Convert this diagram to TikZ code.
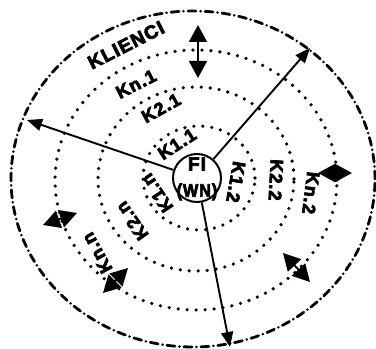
\documentclass[tikz,border=0pt]{standalone}
\usepackage{fontspec}
\setmainfont{Liberation Sans}
\newfontfamily\heavyfont[FakeBold=4,LetterSpace=6]{Liberation Sans Bold}
\usetikzlibrary{arrows.meta}

\begin{document}
\begin{tikzpicture}[x=1pt,y=1pt,
  lbl/.style={font=\heavyfont\fontsize{18}{18}\selectfont,inner sep=0pt},
  big/.style={font=\heavyfont\fontsize{19}{19}\selectfont,inner sep=0pt},
  ring/.style={line width=3.6pt,line cap=round,dash pattern=on 0pt off 9pt},
  rim/.style={line width=2.8pt,line cap=round,dash pattern=on 8pt off 4.5pt on 0pt off 4.5pt},
  arr/.style={-{Triangle[length=15pt,width=12pt]},line width=1.9pt},
  dbl/.style={{Triangle[length=17pt,width=18pt]}-{Triangle[length=17pt,width=18pt]},line width=1.9pt}
]
\useasboundingbox (0,0) rectangle (376,349);

% rings
\draw[ring] (199,171) ellipse [x radius=56,y radius=52];
\draw[ring] (196,170) ellipse [x radius=98,y radius=92];
\draw[ring] (196,169) ellipse [x radius=141,y radius=130];
\draw[rim] (193,170) ellipse [x radius=182,y radius=168];

% firm in the middle
\node[circle,draw,line width=2pt,minimum size=48pt,inner sep=0pt] (fi) at (197,171) {};
\node[big] (fitxt) at (197,185) {FI};
\node[lbl,xscale=0.9] (wn) at (197,157) {(WN)};

% arrows out of the firm
\coordinate (tipw) at (27,229);
\coordinate (tipne) at (310,301);
\coordinate (tips) at (230,2);
\draw[arr] (fi) -- (tipw);
\draw[arr] (fi) -- (tipne);
\draw[arr] (fi) -- (tips);

% double arrows on the Kn ring
\coordinate (na) at (198,324);
\coordinate (nb) at (198,271);
\coordinate (ea) at (352,176);
\coordinate (eb) at (318,176);
\coordinate (sea) at (310,67);
\coordinate (seb) at (283,96);
\coordinate (wa) at (43,124);
\coordinate (wb) at (77,136);
\coordinate (swa) at (103,56);
\coordinate (swb) at (128,81);
\draw[dbl] (na) -- (nb);
\draw[dbl] (ea) -- (eb);
\draw[dbl] (sea) -- (seb);
\draw[dbl] (wa) -- (wb);
\draw[dbl] (swa) -- (swb);

% labels
\node[big,rotate=27] (klienci) at (126,304) {KLIENCI};
\node[lbl,rotate=27] (kn1) at (136,265) {Kn.1};
\node[lbl,rotate=29] (k21) at (161,241) {K2.1};
\node[lbl,rotate=33] (k11) at (177,205) {K1.1};
\node[lbl,rotate=-100] (k12) at (236,167) {K1.2};
\node[lbl,rotate=-93] (k22) at (276,169) {K2.2};
\node[lbl,rotate=-97] (kn2) at (311,156) {Kn.2};
\node[lbl,rotate=124] (k1n) at (157,156) {K1.n};
\node[lbl,rotate=125] (k2n) at (132,128) {K2.n};
\node[lbl,rotate=119] (knn) at (97,96) {Kn.n};
\end{tikzpicture}
\end{document}
